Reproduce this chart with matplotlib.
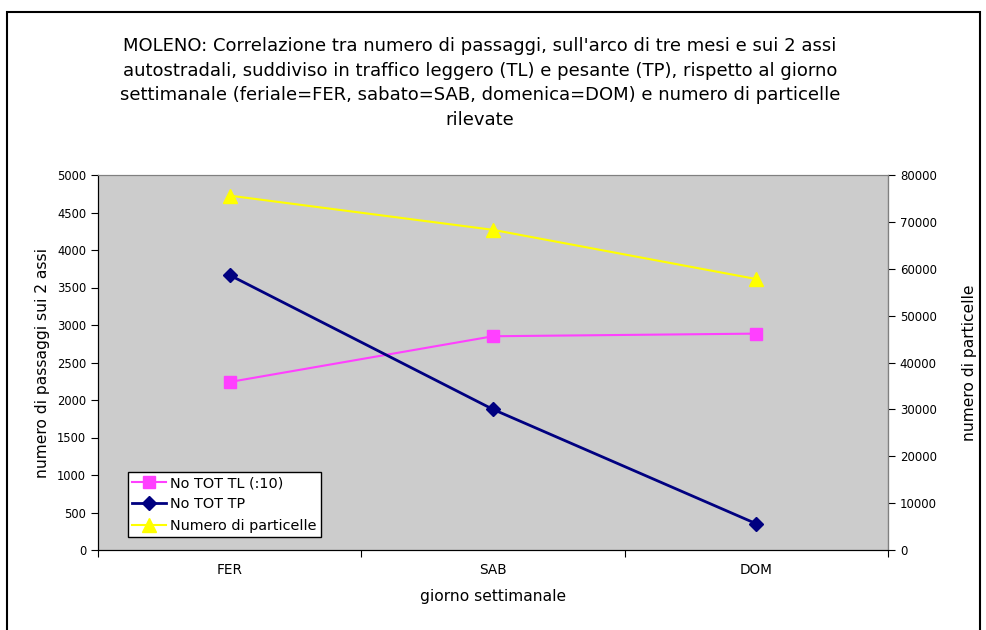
import matplotlib
matplotlib.use("Agg")
import matplotlib.pyplot as plt
from matplotlib.patches import Rectangle

plt.rcParams['font.family'] = ['DejaVu Sans']

categories = ["FER", "SAB", "DOM"]
tl_values = [2240, 2850, 2885]
tp_values = [3665, 1875, 350]
particles = [75600, 68300, 57800]

title = ("MOLENO: Correlazione tra numero di passaggi, sull'arco di tre mesi e sui 2 assi\n"
         "autostradali, suddiviso in traffico leggero (TL) e pesante (TP), rispetto al giorno\n"
         "settimanale (feriale=FER, sabato=SAB, domenica=DOM) e numero di particelle\n"
         "rilevate")

W, H = 987, 630
fig = plt.figure(figsize=(W/100, H/100), dpi=100)
fig.patch.set_facecolor('white')
fig.patches.append(Rectangle((7/W, -0.01), (980-7)/W, (H-12)/H + 0.01, transform=fig.transFigure,
                             fill=False, edgecolor='black', linewidth=1.5))

ax = fig.add_axes([98/W, (H-550)/H, (888-98)/W, 375/H])
x = [0.5, 1.5, 2.5]
l1, = ax.plot(x, tl_values, color='#FF40FF', marker='s', markersize=9, linewidth=1.5, label='No TOT TL (:10)')
l2, = ax.plot(x, tp_values, color='#000080', marker='D', markersize=7, linewidth=2, label='No TOT TP')
ax.set_xlim(0, 3)
ax.set_ylim(0, 5000)
ax.set_yticks(range(0, 5001, 500))
ax.set_xticks([0, 1, 2, 3])
ax.set_xticklabels([])
ax.set_xticks(x, minor=True)
ax.set_xticklabels(categories, minor=True)
ax.tick_params(axis='x', which='minor', length=0, pad=9, labelsize=9.8)
ax.tick_params(axis='x', which='major', length=5, direction='out')
ax.tick_params(axis='y', labelsize=8.3, length=5, direction='out')
ax.set_ylabel('numero di passaggi sui 2 assi', fontsize=11.2, labelpad=5)
ax.set_xlabel('giorno settimanale', fontsize=11.2, labelpad=9)
for s in ['top', 'right']:
    ax.spines[s].set_color('#808080')
ax.spines['left'].set_color('black')
ax.spines['bottom'].set_color('black')

ax2 = ax.twinx()
l3, = ax2.plot(x, particles, color='#FFFF00', marker='^', markersize=10, linewidth=1.5, label='Numero di particelle')
ax2.set_ylim(0, 80000)
ax2.set_yticks(range(0, 80001, 10000))
ax2.tick_params(axis='y', labelsize=8.5, length=5, direction='out')
ax2.set_ylabel('numero di particelle', fontsize=11.2, labelpad=18)
ax2.spines['right'].set_color('black')
ax2.spines['top'].set_color('#808080')

ax.set_zorder(ax2.get_zorder() + 1)
ax.patch.set_visible(False)
ax2.patch.set_visible(True)
ax2.patch.set_facecolor('#CCCCCC')

leg = ax.legend(handles=[l1, l2, l3], loc='lower left', bbox_to_anchor=((128-98)/790, (550-537)/375),
                frameon=True, fancybox=False, edgecolor='black', framealpha=1, fontsize=10.4,
                borderpad=0.3, labelspacing=0.5, handlelength=2.3, handletextpad=0.3, borderaxespad=0)
leg.get_frame().set_linewidth(1)

fig.text(480/W, 1 - 83/H, title, ha='center', va='center', fontsize=13, linespacing=1.48)

fig.savefig('out.png', dpi=100)
